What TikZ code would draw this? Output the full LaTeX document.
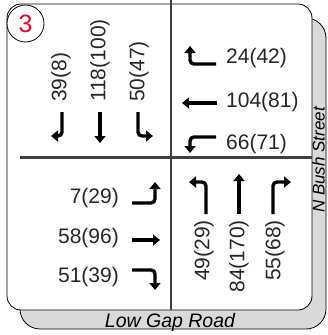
\documentclass[tikz,border=0pt]{standalone}
\usepackage{fontspec}
\setmainfont{Liberation Sans}
\usetikzlibrary{arrows.meta}
\definecolor{numred}{RGB}{228,0,52}
\begin{document}
\begin{tikzpicture}[x=1pt,y=-1pt,
  arr/.style={line width=3.4pt, -{Triangle[length=7pt,width=11pt]}, rounded corners=4pt},
  lbl/.style={inner sep=0pt, font=\fontsize{21}{21}\selectfont, text=black!85},
  street/.style={inner sep=0pt, font=\fontsize{19.5}{19.5}\selectfont\itshape, text=black},
  road/.style={line width=2.4pt, draw=black!75},
  frame/.style={line width=0.8pt, draw=black}]
\useasboundingbox (0,0) rectangle (327,335);
% shadow band
\draw[frame, fill=black!15, rounded corners=20pt] (20,18) rectangle (326,329);
% white box
\draw[frame, fill=white, rounded corners=14pt] (7,4) rectangle (312,310);
% road lines
\draw[road] (171,0) -- (171,310);
\draw[road] (20,157.5) -- (312,157.5);
% number circle
\node[circle, draw=black, line width=0.8pt, fill=white, minimum size=37pt, inner sep=0pt,
      text=numred, font=\fontsize{25}{25}\selectfont] (num) at (25.5,23.5) {3};
% street names
\node[street, anchor=base] (low) at (170,327) {Low Gap Road};
\node[street, rotate=90, anchor=base, font=\fontsize{17}{17}\selectfont\itshape] (bush) at (324.5,160) {N Bush Street};
% southbound (top-left)
\node[lbl, rotate=90, anchor=west] (s1) at (61,102) {39(8)};
\node[lbl, rotate=90, anchor=west] (s2) at (100,102) {118(100)};
\node[lbl, rotate=90, anchor=west] (s3) at (139,102) {50(47)};
\draw[arr] (62,112) -- (62,136) -- (51,136);
\draw[arr] (100,112) -- (100,143);
\draw[arr] (138,112) -- (138,136) -- (153,136);
% westbound (top-right)
\node[lbl, anchor=west] (w1) at (226,58) {24(42)};
\node[lbl, anchor=west] (w2) at (226,102) {104(81)};
\node[lbl, anchor=west] (w3) at (226,144) {66(71)};
\draw[arr] (216,64) -- (190,64) -- (190,46);
\draw[arr] (217,103) -- (182,103);
\draw[arr] (216,137) -- (190,137) -- (190,153);
% eastbound (bottom-left)
\node[lbl, anchor=east] (e1) at (119,198) {7(29)};
\node[lbl, anchor=east] (e2) at (119,238) {58(96)};
\node[lbl, anchor=east] (e3) at (119,277) {51(39)};
\draw[arr] (132,203) -- (155,203) -- (155,182);
\draw[arr] (132,240) -- (160,240);
\draw[arr] (132,270) -- (155,270) -- (155,290);
% northbound (bottom-right)
\node[lbl, rotate=90, anchor=east] (n1) at (204,220) {49(29)};
\node[lbl, rotate=90, anchor=east] (n2) at (239,220) {84(170)};
\node[lbl, rotate=90, anchor=east] (n3) at (275,220) {55(68)};
\draw[arr] (206,214) -- (206,182) -- (189,182);
\draw[arr] (239,214) -- (239,174);
\draw[arr] (273,214) -- (273,182) -- (291,182);
\end{tikzpicture}
\end{document}
